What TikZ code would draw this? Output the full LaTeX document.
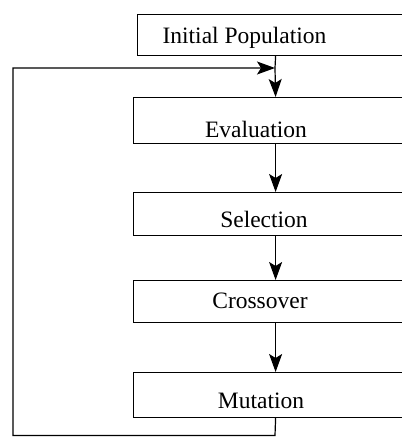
\documentclass[tikz,border=0pt]{standalone}
\usepackage{fontspec}
\setmainfont{Liberation Serif}
\usepackage{tikz}
\usetikzlibrary{positioning}
\usetikzlibrary{arrows.meta}
\usetikzlibrary{calc}
\tikzset{stage node/.style={rectangle,draw,line width=1.2pt,inner sep=0pt,anchor=north west},
         stage text/.style={anchor=base,inner sep=0pt,font=\fontsize{23.5}{26}\selectfont},
         flow/.style={-{Stealth[length=18pt,width=13pt,inset=4pt]},line width=1.2pt},}

\begin{document}
\begin{tikzpicture}[x=1pt, y=-1pt]
	\useasboundingbox (0,0) rectangle (402,437);
	\clip (0,0) rectangle (402,437);
	\node[stage node, minimum width=276pt, minimum height=41pt] (init) at (137,14) {};
	\node[stage node, minimum width=284pt, minimum height=46pt] (eval) at (133,97) {};
	\node[stage node, minimum width=284pt, minimum height=43pt] (sel) at (133,192) {};
	\node[stage node, minimum width=284pt, minimum height=42pt] (cross) at (133,280) {};
	\node[stage node, minimum width=284pt, minimum height=45pt] (mut) at (133,372) {};

	\node[stage text] (initT) at (244.5,43) {Initial Population};
	\node[stage text] (evalT) at (256,137) {Evaluation};
	\node[stage text] (selT) at (264,227) {Selection};
	\node[stage text] (crossT) at (260,308) {Crossover};
	\node[stage text] (mutT) at (261,408) {Mutation};

	\coordinate (merge) at (275,68);
	\coordinate (low) at (275,435.5);
	\coordinate (corner) at (13,435.5);

	\draw[line width=1.2pt] (init.south) -- (merge);
	\draw[flow] (merge) -- (eval.north);
	\draw[flow] (eval.south) -- (sel.north);
	\draw[flow] (sel.south) -- (cross.north);
	\draw[flow] (cross.south) -- (mut.north);
	\draw[flow] (mut.south) -- (low) -- (corner) |- (merge);
\end{tikzpicture}
\end{document}
